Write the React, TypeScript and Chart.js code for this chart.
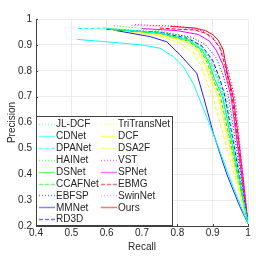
import React, { useEffect, useRef } from 'react';
import { Chart, registerables } from 'chart.js';
Chart.register(...registerables);

const xTicks = [0.4, 0.5, 0.6, 0.7, 0.8, 0.9, 1];
const yTicks = [0.2, 0.3, 0.4, 0.5, 0.6, 0.7, 0.8, 0.9, 1];

const seriesNames = ['JL-DCF', 'CDNet', 'DPANet', 'HAINet', 'DSNet', 'CCAFNet', 'EBFSP', 'MMNet', 'RD3D',
  'TriTransNet', 'DCF', 'DSA2F', 'VST', 'SPNet', 'EBMG', 'SwinNet', 'Ours'];
const seriesColors = ['#00ffff', '#00ffff', '#00ffff', '#00ff00', '#00ff00', '#00ff00', '#0000ff', '#2020ff', '#0000ff',
  '#ffff00', '#ffff00', '#ffff00', '#ff00ff', '#ff00ff', '#ff0000', '#ff66ff', '#ff0000'];
const seriesStyles = ['dot', 'solid', 'dash', 'dot', 'solid', 'dash', 'dot', 'solid', 'dash',
  'dot', 'solid', 'dash', 'dot', 'solid', 'dash', 'dot', 'solid'];

// [recall, precision]
const jlDcf = [[0.6, 0.962], [0.75, 0.948], [0.83, 0.925], [0.87, 0.89], [0.895, 0.84], [0.915, 0.77], [0.932, 0.7], [1, 0.21]];
const cdNet = [[0.517, 0.921], [0.6, 0.912], [0.7, 0.9], [0.751, 0.887], [0.789, 0.854], [0.817, 0.816], [0.845, 0.751], [0.883, 0.622], [0.92, 0.49], [0.958, 0.35], [1, 0.21]];
const dpaNet = [[0.52, 0.963], [0.6, 0.965], [0.75, 0.945], [0.83, 0.92], [0.87, 0.885], [0.895, 0.83], [0.915, 0.76], [0.93, 0.7], [1, 0.21]];
const haiNet = [[0.62, 0.975], [0.75, 0.955], [0.83, 0.93], [0.87, 0.895], [0.895, 0.84], [0.915, 0.77], [0.94, 0.7], [1, 0.21]];
const dsNet = [[0.6, 0.962], [0.75, 0.945], [0.83, 0.92], [0.87, 0.88], [0.89, 0.83], [0.905, 0.77], [0.928, 0.7], [1, 0.21]];
const ccafNet = [[0.62, 0.96], [0.75, 0.945], [0.83, 0.915], [0.865, 0.88], [0.885, 0.83], [0.9, 0.77], [0.922, 0.7], [1, 0.21]];
const ebfsp = [[0.6, 0.962], [0.75, 0.95], [0.84, 0.93], [0.88, 0.9], [0.91, 0.85], [0.93, 0.78], [0.945, 0.7], [1, 0.21]];
const mmNet = [[0.628, 0.955], [0.723, 0.932], [0.77, 0.912], [0.808, 0.861], [0.855, 0.79], [0.874, 0.7], [0.902, 0.558], [0.94, 0.4], [0.977, 0.275], [1, 0.21]];
const rd3d = [[0.6, 0.96], [0.75, 0.948], [0.83, 0.925], [0.87, 0.895], [0.9, 0.84], [0.92, 0.77], [0.935, 0.7], [1, 0.21]];
const triTransNet = [[0.6, 0.965], [0.75, 0.945], [0.83, 0.915], [0.86, 0.88], [0.88, 0.83], [0.895, 0.77], [0.918, 0.7], [1, 0.21]];
const dcf = [[0.6, 0.963], [0.75, 0.94], [0.82, 0.915], [0.86, 0.875], [0.88, 0.82], [0.895, 0.76], [0.915, 0.7], [1, 0.21]];
const dsa2f = [[0.6, 0.96], [0.75, 0.935], [0.81, 0.905], [0.85, 0.865], [0.87, 0.81], [0.885, 0.75], [0.9, 0.7], [1, 0.21]];
const vst = [[0.68, 0.978], [0.8, 0.972], [0.86, 0.96], [0.9, 0.93], [0.92, 0.89], [0.94, 0.82], [0.962, 0.7], [1, 0.21]];
const spNet = [[0.7, 0.963], [0.8, 0.955], [0.86, 0.94], [0.89, 0.915], [0.91, 0.88], [0.93, 0.82], [0.952, 0.7], [1, 0.21]];
const ebmg = [[0.75, 0.965], [0.85, 0.957], [0.88, 0.945], [0.9, 0.925], [0.92, 0.89], [0.935, 0.82], [0.955, 0.7], [1, 0.21]];
const swinNet = [[0.67, 0.975], [0.8, 0.968], [0.87, 0.955], [0.9, 0.93], [0.925, 0.88], [0.945, 0.8], [0.965, 0.68], [1, 0.21]];
const ours = [[0.78, 0.972], [0.85, 0.965], [0.88, 0.955], [0.9, 0.94], [0.915, 0.92], [0.93, 0.88], [0.94, 0.8], [0.958, 0.7], [0.972, 0.55], [0.985, 0.4], [1, 0.21]];

const seriesData = [jlDcf, cdNet, dpaNet, haiNet, dsNet, ccafNet, ebfsp, mmNet, rd3d,
  triTransNet, dcf, dsa2f, vst, spNet, ebmg, swinNet, ours];

const FONT = "'Liberation Sans', Arial, sans-serif";
const TEXT = '#262626';

function dashFor(s: string) {
  if (s === 'dot') return [1, 2];
  if (s === 'dash') return [4, 2];
  return [];
}

const fmt = (v: number) => {
  const r = Math.round(v * 10) / 10;
  return r === 1 ? '1' : r.toFixed(1);
};

const decor = {
  id: 'decor',
  afterDraw(chart: any) {
    const ctx = chart.ctx;
    const a = chart.chartArea;
    const xs = chart.scales.x;
    const ys = chart.scales.y;
    ctx.save();
    ctx.strokeStyle = '#404040';
    ctx.lineWidth = 1;
    ctx.beginPath();
    xTicks.forEach((t) => {
      const x = Math.round(xs.getPixelForValue(t)) + 0.5;
      ctx.moveTo(x, a.bottom);
      ctx.lineTo(x, a.bottom - 2);
    });
    yTicks.forEach((t) => {
      const y = Math.round(ys.getPixelForValue(t)) + 0.5;
      ctx.moveTo(a.left, y);
      ctx.lineTo(a.left + 2, y);
    });
    ctx.stroke();

    // legend
    const lx = a.left, ly = 116, lr = 173, lb = a.bottom;
    ctx.fillStyle = '#ffffff';
    ctx.fillRect(lx, ly, lr - lx, lb - ly);
    ctx.strokeStyle = '#404040';
    ctx.lineWidth = 1;
    ctx.strokeRect(lx + 0.5, ly + 0.5, lr - lx - 1, lb - ly - 1);
    ctx.font = `10px ${FONT}`;
    ctx.textBaseline = 'middle';
    ctx.textAlign = 'left';
    seriesNames.forEach((name, i) => {
      const col = i < 9 ? 0 : 1;
      const row = i < 9 ? i : i - 9;
      const y = 124 + row * 11.9;
      const x0 = col === 0 ? 39 : 101;
      ctx.save();
      ctx.globalAlpha = 0.55;
      ctx.strokeStyle = seriesColors[i];
      ctx.lineWidth = 1.5;
      ctx.setLineDash(dashFor(seriesStyles[i]));
      ctx.beginPath();
      ctx.moveTo(x0, Math.round(y) + 0.5);
      ctx.lineTo(x0 + 16, Math.round(y) + 0.5);
      ctx.stroke();
      ctx.restore();
      ctx.fillStyle = TEXT;
      ctx.fillText(name, x0 + 17, y + 0.5);
    });

    ctx.fillStyle = TEXT;
    ctx.font = `10px ${FONT}`;
    ctx.textAlign = 'center';
    ctx.textBaseline = 'middle';
    ctx.fillText('Recall', (a.left + a.right) / 2, 247);
    ctx.save();
    ctx.translate(12, (a.top + a.bottom) / 2);
    ctx.rotate(-Math.PI / 2);
    ctx.fillText('Precision', 0, 0);
    ctx.restore();
    ctx.restore();
  },
};

export default function App() {
  const ref = useRef<HTMLCanvasElement>(null);
  useEffect(() => {
    document.body.style.margin = '0';
    const canvas = ref.current!;
    const datasets = seriesData.map((d, i) => ({
      label: seriesNames[i],
      data: d.map(([x, y]) => ({ x, y })),
      borderColor: seriesColors[i],
      backgroundColor: seriesColors[i],
      borderWidth: 1,
      borderDash: dashFor(seriesStyles[i]),
      pointRadius: 0,
      showLine: true,
      fill: false,
      tension: 0,
    }));
    const chart = new Chart(canvas, {
      type: 'scatter',
      data: { datasets },
      options: {
        responsive: false,
        animation: false,
        layout: { padding: { top: 19, right: 26, left: 0, bottom: 0 } },
        plugins: { legend: { display: false }, tooltip: { enabled: false } },
        scales: {
          x: {
            type: 'linear', min: 0.4, max: 1,
            afterFit: (s: any) => { s.height = 31; },
            afterBuildTicks: (s: any) => { s.ticks = xTicks.map((v) => ({ value: v })); },
            ticks: { callback: (v: any) => fmt(Number(v)), color: TEXT, font: { family: FONT, size: 10 }, padding: 1, maxRotation: 0 },
            grid: { color: '#ebebeb', drawTicks: false, lineWidth: 1 },
            border: { color: '#404040', width: 1 },
          },
          y: {
            type: 'linear', min: 0.2, max: 1,
            afterFit: (s: any) => { s.width = 36; },
            afterBuildTicks: (s: any) => { s.ticks = yTicks.map((v) => ({ value: v })); },
            ticks: { callback: (v: any) => fmt(Number(v)), color: TEXT, font: { family: FONT, size: 10 }, padding: 4 },
            grid: { color: '#ebebeb', drawTicks: false, lineWidth: 1 },
            border: { color: '#404040', width: 1 },
          },
        },
      },
      plugins: [decor],
    });
    return () => chart.destroy();
  }, []);
  return <canvas ref={ref} width={274} height={257} style={{ display: 'block' }} />;
}
